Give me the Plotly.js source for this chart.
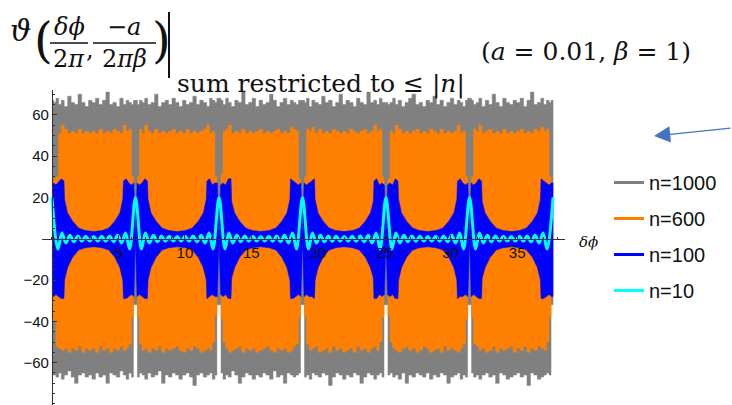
<!DOCTYPE html>
<html><head><meta charset="utf-8">
<script src="https://cdn.plot.ly/plotly-3.0.1.min.js"></script>
<style>html,body{margin:0;padding:0;background:#fff;}#chart{width:732px;height:405px;}</style>
</head><body><div id="chart"></div>
<script>
// ---- series labels / colours ----
const seriesNames = ['n=1000', 'n=600', 'n=100', 'n=10'];
const seriesColors = ['#808080', '#ff8000', '#0000ff', '#00ffff'];

// ---- band sample positions (δφ) for the dense n=1000 / n=600 traces ----
const bandX = [0,
0.15,0.30,0.50,0.70,0.92,1.18,1.44,1.70,1.96,2.23,2.49,2.75,3.01,3.27,3.53,3.80,4.06,4.32,4.58,4.84,5.10,5.36,5.58,5.78,5.98,6.13,
6.43,6.58,6.78,6.98,7.20,7.46,7.72,7.98,8.24,8.51,8.77,9.03,9.29,9.55,9.81,10.08,10.34,10.60,10.86,11.12,11.38,11.64,11.86,12.06,12.26,12.41,
12.72,12.87,13.07,13.27,13.49,13.75,14.01,14.27,14.53,14.80,15.06,15.32,15.58,15.84,16.10,16.37,16.63,16.89,17.15,17.41,17.67,17.93,18.15,18.35,18.55,18.70,
19.00,19.15,19.35,19.55,19.77,20.03,20.29,20.55,20.81,21.08,21.34,21.60,21.86,22.12,22.38,22.65,22.91,23.17,23.43,23.69,23.95,24.21,24.43,24.63,24.83,24.98,
25.28,25.43,25.63,25.83,26.05,26.31,26.57,26.83,27.09,27.36,27.62,27.88,28.14,28.40,28.66,28.93,29.19,29.45,29.71,29.97,30.23,30.49,30.71,30.91,31.11,31.27,
31.57,31.72,31.92,32.12,32.34,32.60,32.86,33.12,33.38,33.65,33.91,34.17,34.43,34.69,34.95,35.22,35.48,35.74,36.00,36.26,36.52,36.78,37.00,37.20,37.40,37.55,
37.70];

// n=1000 (gray): upper / lower extent of the oscillation (value held from each sample to the next)
const grayUpper = [67,
66,68,65,67,64,69,66,65,70,66,64,67,66,68,65,67,71,65,66,64,68,65,67,66,65,67,
65,67,66,68,65,66,70,64,66,67,65,68,66,64,67,65,66,69,65,67,66,64,68,67,66,68,
67,65,68,66,64,67,66,71,65,66,68,64,67,65,66,70,67,64,66,68,65,67,66,65,67,67,
66,68,64,67,66,65,69,66,67,64,66,70,65,67,66,64,68,66,65,71,66,67,65,68,66,66,
65,66,68,65,67,64,66,68,70,65,66,64,67,66,69,65,67,64,66,68,65,67,66,64,67,68,
67,65,66,68,64,67,65,70,66,64,68,66,65,67,66,68,64,67,71,65,66,68,65,67,66,67,
67];
const grayLower = [-66,
-66,-67,-65,-68,-66,-64,-67,-70,-66,-65,-67,-66,-68,-65,-67,-66,-70,-65,-66,-67,-64,-66,-68,-65,-67,-32,
-67,-65,-66,-68,-65,-67,-66,-64,-70,-66,-67,-65,-66,-68,-66,-65,-67,-71,-66,-65,-67,-66,-65,-68,-66,-32,
-65,-68,-66,-67,-64,-66,-70,-67,-65,-66,-68,-66,-67,-65,-66,-68,-64,-67,-66,-70,-65,-66,-67,-66,-65,-32,
-67,-66,-68,-65,-66,-67,-65,-66,-71,-67,-65,-66,-68,-66,-67,-65,-66,-70,-67,-65,-66,-68,-66,-65,-67,-32,
-66,-65,-67,-66,-68,-65,-70,-66,-67,-65,-66,-67,-65,-68,-66,-67,-65,-66,-70,-67,-66,-65,-68,-66,-67,-32,
-65,-67,-66,-68,-66,-65,-67,-66,-70,-65,-66,-68,-67,-66,-65,-67,-66,-71,-65,-66,-68,-67,-66,-65,-66,-32,
-32];

// n=600 (orange)
const orangeUpper = [28,
29,30,51,55,53,51,52,51,53,51,52,51,52,51,53,51,52,51,53,52,51,55,52,53,30,0,
30,53,51,55,52,51,53,51,52,51,52,53,51,52,51,53,51,52,51,52,53,55,51,52,30,0,
31,52,53,55,51,52,51,53,51,52,51,52,53,51,52,51,52,53,51,52,51,54,53,52,29,0,
30,53,52,54,51,53,51,52,51,53,52,51,52,51,53,52,51,52,53,51,52,55,52,53,30,0,
29,52,51,55,53,51,52,51,52,53,51,52,51,53,52,51,53,51,52,51,52,55,51,52,30,0,
30,53,52,55,51,52,53,51,52,51,53,51,52,51,52,53,51,52,51,53,52,54,52,53,30,0,
0];
const orangeLower = [-40,
-40,-52,-53,-54,-53,-55,-53,-54,-52,-55,-53,-54,-53,-55,-52,-54,-53,-55,-53,-54,-52,-54,-53,-51,-38,0,
-38,-51,-54,-53,-55,-53,-54,-52,-55,-53,-54,-53,-52,-54,-55,-53,-54,-52,-53,-55,-54,-53,-54,-50,-37,0,
-39,-50,-53,-55,-54,-53,-52,-55,-53,-54,-53,-55,-54,-53,-52,-54,-55,-53,-54,-53,-55,-54,-52,-51,-38,0,
-38,-51,-54,-53,-52,-55,-54,-53,-55,-52,-54,-53,-55,-54,-53,-55,-52,-54,-53,-55,-53,-52,-54,-50,-38,0,
-37,-50,-53,-54,-55,-53,-52,-54,-53,-55,-54,-52,-53,-55,-54,-53,-55,-52,-54,-53,-54,-55,-53,-51,-39,0,
-38,-51,-52,-54,-53,-55,-54,-52,-55,-53,-54,-53,-52,-55,-53,-54,-52,-55,-53,-54,-52,-53,-54,-50,-38,0,
0];

// n=100 (blue): envelope at these δφ positions
const blueX = [0,0.12,0.30,0.50,0.70,0.90,0.95,1.17,1.55,2.00,2.50,3.14,3.78,4.28,4.73,5.11,5.33,5.38,5.58,5.78,5.98,6.16,
6.28,6.40,6.58,6.78,6.98,7.18,7.23,7.45,7.83,8.28,8.78,9.42,10.06,10.56,11.01,11.39,11.61,11.66,11.86,12.06,12.26,12.44,
12.57,12.69,12.87,13.07,13.27,13.47,13.52,13.74,14.12,14.57,15.07,15.71,16.35,16.85,17.30,17.68,17.90,17.95,18.15,18.35,18.55,18.73,
18.85,18.97,19.15,19.35,19.55,19.75,19.80,20.02,20.40,20.85,21.35,21.99,22.63,23.13,23.58,23.96,24.18,24.23,24.43,24.63,24.83,25.01,
25.13,25.25,25.43,25.63,25.83,26.03,26.08,26.30,26.68,27.13,27.63,28.27,28.91,29.41,29.86,30.24,30.46,30.51,30.71,30.91,31.11,31.29,
31.42,31.54,31.72,31.92,32.12,32.32,32.37,32.59,32.97,33.42,33.92,34.56,35.20,35.70,36.15,36.53,36.75,36.80,37.00,37.20,37.40,37.58,
37.70];
const blueUpper = [26,27,26,27.5,29,28,19,12.5,8.5,5.2,4,3.5,4,5.2,8.5,12.5,19,28,29,27,26,27,
0,27,26,27,29,28,19,12.5,8.5,5.2,4,3.5,4,5.2,8.5,12.5,19,28,29,26,27,27,
0,26,27,26,29,29,18,12.5,8.5,5.2,4,3.5,4,5.2,8.5,12.5,19,29,28,27,26,27,
0,27,26,27,28,29,19,12.5,8.5,5.2,4,3.5,4,5.2,8.5,12.5,18,28,29,26,27,26,
0,26,27,26,29,28,19,12.5,8.5,5.2,4,3.5,4,5.2,8.5,12.5,19,28,29,27,26,27,
0,27,26,27,29,28,18,12.5,8.5,5.2,4,3.5,4,5.2,8.5,12.5,19,29,28,27,26,27,
27];
const blueLower = [-28,-28,-27,-28,-29,-29,-20,-14,-9,-5.5,-4.4,-3.9,-4.4,-5.5,-9,-14,-20,-29,-29,-28,-27,-28,
0,-28,-27,-28,-29,-29,-20,-14,-9,-5.5,-4.4,-3.9,-4.4,-5.5,-9,-14,-20,-29,-28,-27,-28,-28,
0,-27,-28,-27,-29,-29,-19,-14,-9,-5.5,-4.4,-3.9,-4.4,-5.5,-9,-14,-20,-29,-29,-28,-27,-28,
0,-28,-27,-28,-28,-29,-20,-14,-9,-5.5,-4.4,-3.9,-4.4,-5.5,-9,-14,-19,-29,-29,-27,-28,-27,
0,-27,-28,-27,-29,-29,-20,-14,-9,-5.5,-4.4,-3.9,-4.4,-5.5,-9,-14,-20,-29,-28,-28,-27,-28,
0,-28,-27,-28,-29,-29,-19,-14,-9,-5.5,-4.4,-3.9,-4.4,-5.5,-9,-14,-20,-29,-29,-28,-27,-28,
-28];

// n=10 (cyan): peaks and turning points of the line
const cyanX = [0,0.45,0.75,1.05,1.35,1.65,1.95,2.24,2.54,2.84,3.14,3.44,3.74,4.04,4.34,4.64,4.94,5.24,5.54,5.84,
6.28,6.73,7.03,7.33,7.63,7.93,8.23,8.53,8.83,9.13,9.42,9.72,10.02,10.32,10.62,10.92,11.22,11.52,11.82,12.12,
12.57,13.02,13.31,13.61,13.91,14.21,14.51,14.81,15.11,15.41,15.71,16.01,16.31,16.61,16.91,17.20,17.50,17.80,18.10,18.40,
18.85,19.30,19.60,19.90,20.20,20.50,20.80,21.09,21.39,21.69,21.99,22.29,22.59,22.89,23.19,23.49,23.79,24.09,24.39,24.69,
25.13,25.58,25.88,26.18,26.48,26.78,27.08,27.38,27.68,27.98,28.27,28.57,28.87,29.17,29.47,29.77,30.07,30.37,30.67,30.97,
31.42,31.87,32.16,32.46,32.76,33.06,33.36,33.66,33.96,34.26,34.56,34.86,35.16,35.46,35.75,36.05,36.35,36.65,36.95,37.25,
37.70];
const cyanY = [20,-5,2.8,-2.1,1.7,-1.5,1.3,-1.2,1.15,-1.1,1.1,-1.1,1.15,-1.2,1.3,-1.5,1.7,-2.1,2.8,-5,
20,-5,2.8,-2.1,1.7,-1.5,1.3,-1.2,1.15,-1.1,1.1,-1.1,1.15,-1.2,1.3,-1.5,1.7,-2.1,2.8,-5,
20,-5,2.8,-2.1,1.7,-1.5,1.3,-1.2,1.15,-1.1,1.1,-1.1,1.15,-1.2,1.3,-1.5,1.7,-2.1,2.8,-5,
20,-5,2.8,-2.1,1.7,-1.5,1.3,-1.2,1.15,-1.1,1.1,-1.1,1.15,-1.2,1.3,-1.5,1.7,-2.1,2.8,-5,
20,-5,2.8,-2.1,1.7,-1.5,1.3,-1.2,1.15,-1.1,1.1,-1.1,1.15,-1.2,1.3,-1.5,1.7,-2.1,2.8,-5,
20,-5,2.8,-2.1,1.7,-1.5,1.3,-1.2,1.15,-1.1,1.1,-1.1,1.15,-1.2,1.3,-1.5,1.7,-2.1,2.8,-5,
20];

// ---- axis ticks ----
const xTickVals = [5, 10, 15, 20, 25, 30, 35];
const yTickVals = [-60, -40, -20, 20, 40, 60];

// ---- geometry ----
const M = {l: 42, r: 167, t: 90, b: 0};
const W = 732 - M.l - M.r, H = 405 - M.t - M.b;
const px = v => (v - M.l) / W;
const py = v => (405 - M.b - v) / H;
const xRange = [-0.75, 38.6], yRange = [-80.5, 72];

// closed outline of a band: upper edge forward, lower edge backward
function stepOutline(x, lo, hi) {
  const X = [], Y = [];
  for (let i = 0; i < x.length - 1; i++) { X.push(x[i], x[i + 1]); Y.push(hi[i], hi[i]); }
  for (let i = x.length - 2; i >= 0; i--) { X.push(x[i + 1], x[i]); Y.push(lo[i], lo[i]); }
  return {X, Y};
}
function lineOutline(x, lo, hi) {
  return {X: x.concat(x.slice().reverse()), Y: hi.concat(lo.slice().reverse())};
}
function bandTrace(o, color) {
  return {x: o.X, y: o.Y, type: 'scatter', mode: 'lines', fill: 'toself', fillcolor: color,
    line: {width: 0.5, color: color, simplify: false}, showlegend: false, hoverinfo: 'skip'};
}

const traces = [
  bandTrace(stepOutline(bandX, grayLower, grayUpper), seriesColors[0]),
  bandTrace(stepOutline(bandX, orangeLower, orangeUpper), seriesColors[1]),
  bandTrace(lineOutline(blueX, blueLower, blueUpper), seriesColors[2]),
  {x: cyanX, y: cyanY, type: 'scatter', mode: 'lines',
    line: {color: seriesColors[3], width: 3, shape: 'spline', smoothing: 1},
    showlegend: false, hoverinfo: 'skip'}
];
// legend entries
seriesNames.forEach((nm, i) => {
  traces.push({x: [null], y: [null], type: 'scatter', mode: 'lines', name: nm,
    legendgroup: 'g' + i, line: {color: seriesColors[i], width: 3}, hoverinfo: 'skip'});
});

const mf = 'DejaVu Serif, Liberation Serif, serif';
const tc = '#111';
function txt(t, x, y, size, xa, extra) {
  return Object.assign({text: t, xref: 'paper', yref: 'paper', x: px(x), y: py(y), showarrow: false,
    xanchor: xa || 'center', yanchor: 'middle', font: {family: mf, size: size, color: tc}}, extra || {});
}

const annotations = [
  txt('<i>ϑ</i>', 20, 30, 30),
  txt('(', 43, 40, 48),
  txt('<i>δϕ</i>', 69, 27, 24),
  txt('2<i>π</i>', 69, 59, 24),
  txt(',', 90, 50, 24),
  txt('−<i>a</i>', 124, 27, 24),
  txt('2<i>πβ</i>', 124, 59, 24),
  txt(')', 161, 40, 48),
  txt('sum restricted to ≤ |<i>n</i>|', 175, 84, 25, 'left'),
  txt('(<i>a</i> = 0.01, <i>β</i> = 1)', 586, 52, 25),
  txt('<i>δϕ</i>', 588, 242, 15),
  {xref: 'paper', yref: 'paper', x: px(654), y: py(136), ax: 80, ay: -8, text: '',
   showarrow: true, arrowhead: 2, arrowsize: 2.5, arrowwidth: 1.3, arrowcolor: '#4472c4'}
];

const shapes = [
  {type: 'line', xref: 'paper', yref: 'paper', x0: px(50), x1: px(88), y0: py(43), y1: py(43), line: {color: tc, width: 1.5}},
  {type: 'line', xref: 'paper', yref: 'paper', x0: px(93), x1: px(156), y0: py(43), y1: py(43), line: {color: tc, width: 1.5}},
  {type: 'line', xref: 'paper', yref: 'paper', x0: px(169), x1: px(169), y0: py(12), y1: py(78), line: {color: tc, width: 2}}
];

const tickFont = {family: 'Liberation Sans, Arial, sans-serif', size: 15, color: tc};
const layout = {
  width: 732, height: 405,
  margin: {l: M.l, r: M.r, t: M.t, b: M.b, autoexpand: false},
  paper_bgcolor: '#ffffff', plot_bgcolor: 'rgba(0,0,0,0)',
  showlegend: true,
  legend: {x: px(609), y: py(163), xanchor: 'left', yanchor: 'top', bgcolor: 'rgba(0,0,0,0)',
    font: {family: 'Liberation Sans, Arial, sans-serif', size: 20, color: tc},
    traceorder: 'grouped', tracegroupgap: 7, itemwidth: 30},
  xaxis: {range: xRange, anchor: 'free', position: (0 - yRange[0]) / (yRange[1] - yRange[0]),
    showline: true, linecolor: '#333', linewidth: 1, showgrid: false, zeroline: false,
    tickmode: 'array', tickvals: xTickVals, ticks: 'inside', ticklen: 4, tickcolor: '#333',
    tickfont: tickFont, layer: 'above traces',
    minor: {tickmode: 'linear', tick0: 0, dtick: 1, ticks: 'inside', ticklen: 2, tickcolor: '#333'}},
  yaxis: {range: yRange, anchor: 'free', position: (0 - xRange[0]) / (xRange[1] - xRange[0]),
    showline: true, linecolor: '#333', linewidth: 1, showgrid: false, zeroline: false,
    tickmode: 'array', tickvals: yTickVals, ticks: 'inside', ticklen: 4, tickcolor: '#333',
    tickfont: tickFont, layer: 'above traces',
    minor: {tickmode: 'linear', tick0: 0, dtick: 5, ticks: 'inside', ticklen: 2, tickcolor: '#333'}},
  annotations: annotations,
  shapes: shapes
};

Plotly.newPlot('chart', traces, layout, {displayModeBar: false, staticPlot: true});
</script>
</body></html>
